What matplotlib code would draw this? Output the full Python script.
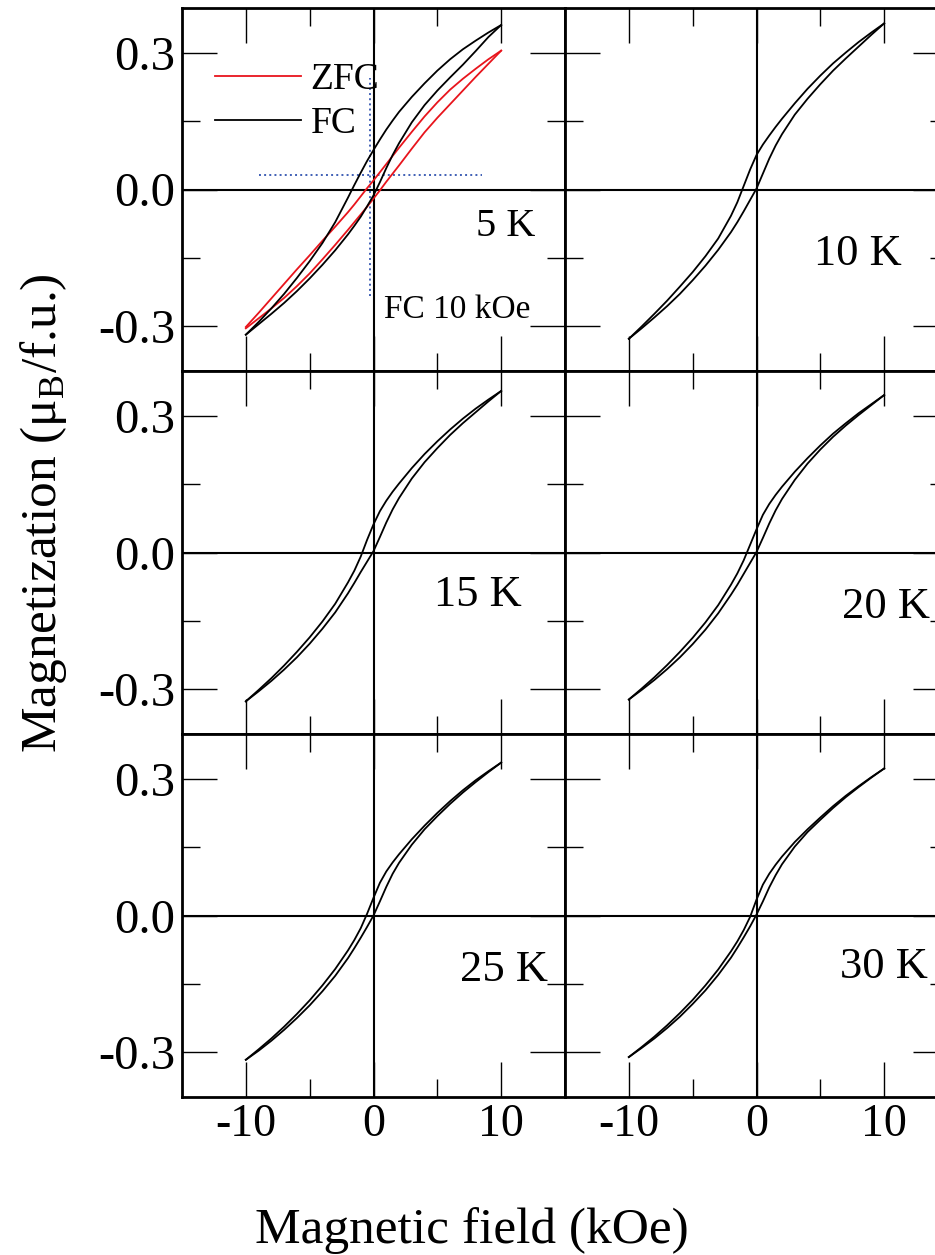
import numpy as np
import matplotlib
matplotlib.use("Agg")
import matplotlib.pyplot as plt
from matplotlib.ticker import FixedLocator

plt.rcParams['font.family'] = ['Liberation Serif', 'DejaVu Serif']
plt.rcParams['axes.unicode_minus'] = False

# field grid (kOe) shared by all branches
field = [-10, -9, -8, -7, -6, -5, -4, -3, -2, -1.5, -1, -0.5, 0,
         0.5, 1, 1.5, 2, 3, 4, 5, 6, 7, 8, 9, 10]

temps = ["5 K", "10 K", "15 K", "20 K", "25 K", "30 K"]

# descending (+10 -> -10) and ascending (-10 -> +10) branches, listed on the field grid
m_down = {
    "5 K":  [-0.320, -0.292, -0.262, -0.230, -0.195, -0.158, -0.118, -0.072, -0.018, 0.010, 0.037, 0.063, 0.087,
             0.110, 0.132, 0.152, 0.171, 0.204, 0.234, 0.262, 0.287, 0.309, 0.328, 0.346, 0.3625],
    "10 K": [-0.329, -0.302, -0.274, -0.245, -0.214, -0.182, -0.147, -0.108, -0.058, -0.028, 0.008, 0.044, 0.076,
             0.099, 0.119, 0.138, 0.156, 0.190, 0.222, 0.251, 0.278, 0.302, 0.325, 0.346, 0.366],
    "15 K": [-0.328, -0.303, -0.277, -0.249, -0.219, -0.187, -0.152, -0.113, -0.066, -0.040, -0.009, 0.028, 0.062,
             0.091, 0.114, 0.134, 0.152, 0.186, 0.217, 0.245, 0.271, 0.295, 0.317, 0.337, 0.356],
    "20 K": [-0.324, -0.300, -0.275, -0.248, -0.219, -0.188, -0.154, -0.116, -0.071, -0.046, -0.017, 0.017, 0.051,
             0.083, 0.107, 0.127, 0.145, 0.178, 0.208, 0.236, 0.262, 0.285, 0.307, 0.327, 0.347],
    "25 K": [-0.318, -0.295, -0.271, -0.245, -0.217, -0.187, -0.154, -0.118, -0.077, -0.054, -0.028, 0.004, 0.039,
             0.072, 0.097, 0.117, 0.135, 0.168, 0.198, 0.226, 0.252, 0.276, 0.298, 0.318, 0.337],
    "30 K": [-0.312, -0.290, -0.267, -0.242, -0.215, -0.186, -0.154, -0.119, -0.079, -0.057, -0.032, -0.003, 0.035,
             0.068, 0.092, 0.112, 0.130, 0.162, 0.190, 0.216, 0.241, 0.264, 0.285, 0.305, 0.324],
}
m_up = {
    "5 K":  [-0.320, -0.297, -0.274, -0.250, -0.224, -0.196, -0.166, -0.134, -0.099, -0.080, -0.060, -0.037, -0.013,
             0.016, 0.047, 0.076, 0.102, 0.148, 0.186, 0.218, 0.247, 0.275, 0.305, 0.336, 0.3625],
    "10 K": [-0.329, -0.306, -0.282, -0.257, -0.230, -0.200, -0.168, -0.133, -0.094, -0.072, -0.048, -0.023, 0.002,
             0.035, 0.068, 0.097, 0.122, 0.165, 0.200, 0.232, 0.262, 0.289, 0.315, 0.341, 0.366],
    "15 K": [-0.328, -0.306, -0.283, -0.258, -0.231, -0.201, -0.168, -0.132, -0.090, -0.067, -0.043, -0.020, 0.003,
             0.034, 0.066, 0.095, 0.120, 0.163, 0.199, 0.230, 0.259, 0.285, 0.309, 0.333, 0.356],
    "20 K": [-0.324, -0.303, -0.281, -0.257, -0.231, -0.202, -0.170, -0.134, -0.093, -0.071, -0.047, -0.023, 0.001,
             0.032, 0.064, 0.093, 0.118, 0.160, 0.196, 0.227, 0.255, 0.280, 0.303, 0.325, 0.347],
    "25 K": [-0.318, -0.298, -0.276, -0.252, -0.226, -0.198, -0.167, -0.133, -0.094, -0.072, -0.049, -0.025, 0.000,
             0.031, 0.063, 0.092, 0.116, 0.156, 0.190, 0.219, 0.246, 0.271, 0.294, 0.316, 0.337],
    "30 K": [-0.312, -0.292, -0.271, -0.248, -0.223, -0.195, -0.165, -0.131, -0.093, -0.071, -0.048, -0.024, 0.002,
             0.031, 0.062, 0.089, 0.113, 0.152, 0.184, 0.211, 0.237, 0.261, 0.283, 0.304, 0.324],
}

# zero-field-cooled loop at 5 K
zfc_down = [-0.303, -0.272, -0.240, -0.208, -0.176, -0.145, -0.113, -0.082, -0.050, -0.033, -0.015, 0.003, 0.020,
            0.038, 0.056, 0.074, 0.092, 0.127, 0.161, 0.192, 0.220, 0.244, 0.266, 0.287, 0.306]
zfc_up = [-0.306, -0.284, -0.262, -0.239, -0.213, -0.185, -0.154, -0.122, -0.089, -0.072, -0.055, -0.038, -0.020,
          -0.002, 0.017, 0.035, 0.053, 0.090, 0.126, 0.158, 0.188, 0.218, 0.248, 0.277, 0.306]

# dotted guide lines in the 5 K panel
guide_h = 0.0316
guide_h_span = [-9.0, 8.5]
guide_v = -0.29
guide_v_span = [-0.235, 0.245]

# label placement in axes fraction (right edge, centre)
label_pos = {"5 K": (0.922, 0.397), "10 K": (0.88, 0.322), "15 K": (0.888, 0.383),
             "20 K": (0.953, 0.35), "25 K": (0.956, 0.35), "30 K": (0.948, 0.358)}

W, H = 935, 1255
fig = plt.figure(figsize=(W / 100, H / 100), dpi=100)

col_left = [182, 565]
row_top = [8, 371, 734]
pw, ph = 383, 363

axes = []
for i, t in enumerate(temps):
    r, c = divmod(i, 2)
    x0 = col_left[c]
    y0 = row_top[r]
    ax = fig.add_axes([x0 / W, 1 - (y0 + ph) / H, pw / W, ph / H])
    axes.append(ax)

    ax.axhline(0, color='k', lw=1.5, zorder=1)
    ax.axvline(0, color='k', lw=1.5, zorder=1)

    ax.plot(field[::-1], m_down[t][::-1], color='k', lw=1.3, zorder=3)
    ax.plot(field, m_up[t], color='k', lw=1.3, zorder=3)

    ax.set_xlim(-15, 15)
    ax.set_ylim(-0.4, 0.4)

    ax.xaxis.set_major_locator(FixedLocator([-10, 0, 10]))
    ax.xaxis.set_minor_locator(FixedLocator([-5, 5]))
    ax.yaxis.set_major_locator(FixedLocator([-0.3, 0.0, 0.3]))
    ax.yaxis.set_minor_locator(FixedLocator([-0.15, 0.15]))
    ax.tick_params(which='both', direction='in', top=True, right=True, width=1.0)
    ax.tick_params(which='major', length=25)
    ax.tick_params(which='minor', length=13)
    ax.tick_params(axis='x', labelsize=33, pad=5)
    ax.tick_params(axis='y', labelsize=35, pad=5)
    ax.yaxis.set_major_formatter(plt.FuncFormatter(lambda v, p: "%.1f" % v))

    if c == 1:
        ax.tick_params(axis='y', labelleft=False)
    if r < 2:
        ax.tick_params(axis='x', labelbottom=False)
    for s in ax.spines.values():
        s.set_linewidth(2.0)

    lx, ly = label_pos[t]
    fs = 29 if t == "5 K" else 32
    ax.text(lx, ly, t, transform=ax.transAxes, ha='right', va='center', fontsize=fs)

ax0 = axes[0]
ax0.plot(field[::-1], zfc_down[::-1], color='#e8141c', lw=1.3, zorder=2, label='ZFC')
ax0.plot(field, zfc_up, color='#e8141c', lw=1.3, zorder=2)
ax0.plot([], [], color='k', lw=1.3, label='FC')
ax0.hlines(guide_h, guide_h_span[0], guide_h_span[1], colors='#3f5fb5', linestyles=':', lw=1.4, zorder=1)
ax0.vlines(guide_v, guide_v_span[0], guide_v_span[1], colors='#3f5fb5', linestyles=':', lw=1.4, zorder=1)
ax0.legend(loc='upper left', bbox_to_anchor=(0.086, 0.85), frameon=False, fontsize=27,
           handlelength=2.3, handletextpad=0.25, labelspacing=0.25, borderpad=0, borderaxespad=0)
ax0.text(0.527, 0.168, "FC 10 kOe", transform=ax0.transAxes, ha='left', va='center', fontsize=24)

fig.text(0.046, 0.591, "Magnetization (μ$_\\mathregular{B}$/f.u.)", rotation=90,
         ha='center', va='center', fontsize=37)
fig.text(0.505, 12 / H, "Magnetic field (kOe)", ha='center', va='baseline', fontsize=37)

fig.savefig("out.png", dpi=100)
